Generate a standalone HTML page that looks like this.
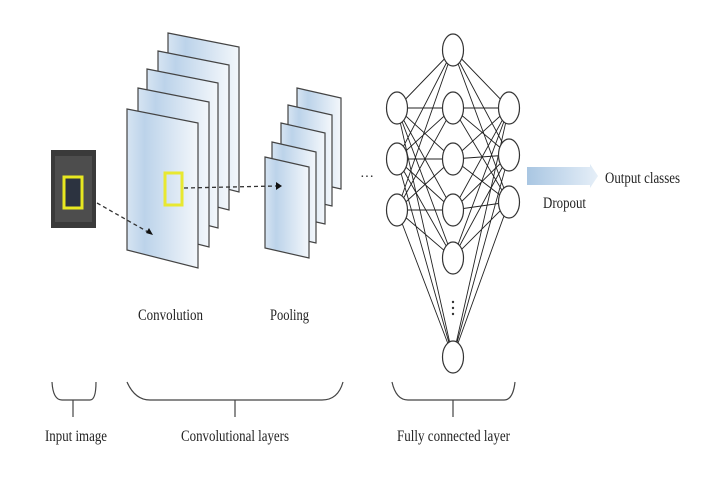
<!DOCTYPE html>
<html><head><meta charset="utf-8"><style>
html,body{margin:0;padding:0;background:#fff;width:728px;height:482px;overflow:hidden}
text{font-family:"Liberation Serif",serif;fill:#222}
</style></head><body>
<svg width="728" height="482" viewBox="0 0 728 482" xmlns="http://www.w3.org/2000/svg">
<defs>
<linearGradient id="g" x1="0" y1="0" x2="1" y2="0">
<stop offset="0" stop-color="#d6e4f2"/><stop offset="0.25" stop-color="#bcd3ea"/><stop offset="1" stop-color="#f3f7fb"/>
</linearGradient>
<linearGradient id="ga" x1="0" y1="0" x2="1" y2="0">
<stop offset="0" stop-color="#a9c6e2"/><stop offset="1" stop-color="#e6eff8"/>
</linearGradient>
</defs>
<g stroke="#444" stroke-width="1.2" fill="url(#g)">
<polygon points="168,33 239,47 239,192 168,174"/>
<polygon points="158,51 229,65 229,210 158,192"/>
<polygon points="147,69 218,83 218,228 147,210"/>
<polygon points="138,88 209,102 209,247 138,229"/>
<polygon points="127,109 198,123 198,268 127,250"/>
<polygon points="297,88 341,98 341,189 297,179"/>
<polygon points="288,105 332,115 332,206 288,196"/>
<polygon points="281,123 325,133 325,224 281,214"/>
<polygon points="272,142 316,152 316,243 272,233"/>
<polygon points="265,157 309,167 309,258 265,248"/>
</g>
<rect x="51" y="150" width="45" height="78" fill="#3a3a3a"/>
<rect x="55" y="156" width="37" height="66" fill="#5a5a5a" opacity="0.6"/>
<rect x="64" y="177" width="18" height="31" fill="#2c3340" stroke="#e8e820" stroke-width="3"/>
<rect x="165" y="173" width="17" height="32" fill="none" stroke="#e8e830" stroke-width="3"/>
<g stroke="#333" stroke-width="1.3" stroke-dasharray="4,3" fill="none">
<line x1="97" y1="203" x2="148" y2="232"/>
<line x1="184" y1="188" x2="276" y2="186"/>
</g>
<polygon points="153,235 146,233 149,228" fill="#111"/>
<polygon points="282,186 276,182 276,190" fill="#111"/>
<text x="360" y="181" font-size="14">···</text>
<g stroke="#222" stroke-width="0.9">
<!-- left to middle -->
<g id="e">
</g>
</g>
<g stroke="#222" stroke-width="0.9" fill="none">
<path d="M397 108L453 50M397 108L453 108M397 108L453 159M397 108L453 210M397 108L453 258M397 108L453 357
M397 159L453 50M397 159L453 108M397 159L453 159M397 159L453 210M397 159L453 258M397 159L453 357
M397 210L453 50M397 210L453 108M397 210L453 159M397 210L453 210M397 210L453 258M397 210L453 357
M453 50L509 108M453 108L509 108M453 159L509 108M453 210L509 108M453 258L509 108M453 357L509 108
M453 50L509 155M453 108L509 155M453 159L509 155M453 210L509 155M453 258L509 155M453 357L509 155
M453 50L509 202M453 108L509 202M453 159L509 202M453 210L509 202M453 258L509 202M453 357L509 202"/>
</g>
<g fill="#fff" stroke="#333" stroke-width="1.2">
<ellipse cx="397" cy="108" rx="10.5" ry="16"/>
<ellipse cx="397" cy="159" rx="10.5" ry="16"/>
<ellipse cx="397" cy="210" rx="10.5" ry="16"/>
<ellipse cx="453" cy="50" rx="10.5" ry="16"/>
<ellipse cx="453" cy="108" rx="10.5" ry="16"/>
<ellipse cx="453" cy="159" rx="10.5" ry="16"/>
<ellipse cx="453" cy="210" rx="10.5" ry="16"/>
<ellipse cx="453" cy="258" rx="10.5" ry="16"/>
<ellipse cx="453" cy="357" rx="10.5" ry="16"/>
<ellipse cx="509" cy="108" rx="10.5" ry="16"/>
<ellipse cx="509" cy="155" rx="10.5" ry="16"/>
<ellipse cx="509" cy="202" rx="10.5" ry="16"/>
</g>
<g fill="#333"><circle cx="453" cy="302" r="1.2"/><circle cx="453" cy="308" r="1.2"/><circle cx="453" cy="314" r="1.2"/></g>
<polygon points="527,167 590,167 590,164 598,176 590,188 590,185 527,185" fill="url(#ga)"/>
<text x="605" y="183" font-size="16" textLength="75" lengthAdjust="spacingAndGlyphs">Output classes</text>
<text x="543" y="208" font-size="16" textLength="43" lengthAdjust="spacingAndGlyphs">Dropout</text>
<text x="138" y="320" font-size="16" textLength="65" lengthAdjust="spacingAndGlyphs">Convolution</text>
<text x="270" y="320" font-size="16" textLength="39" lengthAdjust="spacingAndGlyphs">Pooling</text>
<g stroke="#444" stroke-width="1.2" fill="none">
<path d="M52 382 Q53 400 62 400 L90 400 Q96 400 96 382"/>
<line x1="73" y1="400" x2="73" y2="417"/>
<path d="M127 382 Q135 400 150 400 L322 400 Q338 400 343 382"/>
<line x1="235" y1="400" x2="235" y2="417"/>
<path d="M392 382 Q396 400 408 400 L504 400 Q513 400 515 382"/>
<line x1="453" y1="400" x2="453" y2="417"/>
</g>
<text x="45" y="441" font-size="16" textLength="62" lengthAdjust="spacingAndGlyphs">Input image</text>
<text x="181" y="441" font-size="16" textLength="108" lengthAdjust="spacingAndGlyphs">Convolutional layers</text>
<text x="397" y="441" font-size="16" textLength="113" lengthAdjust="spacingAndGlyphs">Fully connected layer</text>
</svg>
</body></html>
